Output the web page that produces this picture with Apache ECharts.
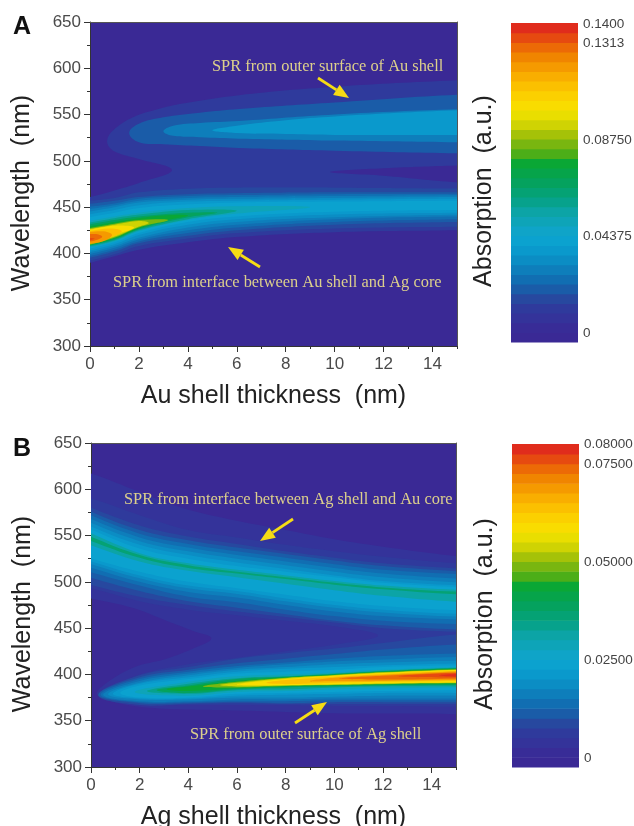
<!DOCTYPE html>
<html><head><meta charset="utf-8">
<style>html,body{margin:0;padding:0;background:#fff}#c{width:634px;height:826px;filter:blur(0.5px)}</style>
<script src="https://cdn.jsdelivr.net/npm/echarts@6/dist/echarts.min.js"></script>
</head><body><div id="c"></div>
<script>
// Colour bands of the scale, bottom to top
const palette=['#3a2995','#382c97','#34339a','#2f3a9c','#27489f','#1a5ca8','#116eb2','#0e7ebb','#0b8dc4','#0a99cc','#0ba2cf','#0fa4c8','#0ea4b8','#0ca4a6','#07a28c','#05a274','#05a25e','#06a44a','#0aa735','#4cae18','#79b610','#a5c208','#cfd303','#e9de00','#f9dc00','#fbd000','#fbc000','#f9ae00','#f59a00','#f08500','#ec6a06','#e64a10','#e02c1c'];
const scaleLabelsA=[0,0.04375,0.0875,0.1313,0.14];
const scaleLabelsB=[0,0.025,0.05,0.075,0.08];
const scaleTextA={0:'0',0.04375:'0.04375',0.0875:'0.08750',0.1313:'0.1313',0.14:'0.1400'};
const scaleTextB={0:'0',0.025:'0.02500',0.05:'0.05000',0.075:'0.07500',0.08:'0.08000'};

// Iso-absorption outlines: thickness (nm), wavelength (nm)
const outlineA=[[0.7,522],[0.95,533],[1.76,547],[2.8,556],[3.8,562],[6.1,571],[10,580],[15,587],[18,590],[18,497],[15,495],[12,492],[9.8,488],[12,484],[15,477],[18,475],[18,426],[15,425],[10,423],[6.1,418],[4,412],[2,404],[1,397],[0,390],[-3,372],[-3,445],[0,461],[1,468],[2,476],[3.35,490],[2,502],[1.2,508],[0.85,513]];
const xA=[-0.5,1,2,4,6,10,15.5];
const contoursA=[
[5,[2,3,4.5,6.1,10,15.5],[540,547,552,556,563,572],[520,518,516,514,511,508],[1.6,530]],
[7,[3.4,4.5,6.1,10,15.5],[538,541,543,550,556],[527,525.5,524,522,520],[3,532]],
[9,[6,8,10,15.5],[538,544,548,555],[530,529,528,528],[5,533]],
[4,xA,[456,460,466,470,471,471,470],[389,399,408,416,422,427,429]],
[5,xA,[452,457,461,464,465,466,466],[392,402,411,419,425,431,434]],
[6,xA,[449,454,459,462,463,464,464],[394,404,413,422,428,434,437]],
[7,xA,[446,452,457,460,461,462,463],[396,406,415,425,431,437,440]],
[8,xA,[443,450,455,458,459,460,461],[398,408,417,428,434,439,442]],
[9,xA,[440,447,452,456,457,458,459],[400,410,420,431,437,442,444]],
[10,xA,[437,444,449,453,455,456,457],[402,412,422,434,440,445,447]],
[12,[-0.5,1,2,4,6],[433,440,444,449,451],[404,413,424,436,443],[9,450]],
[14,[-0.5,1,2,4],[431,438,442,447],[405,414,425,437],[6,446]],
[16,[-0.5,1,2,4],[429,436,440,444],[406,415,426,439],[5.2,444]],
[18,[-0.5,1,2,3],[427,434,438,441],[406,416,427,435],[4,441]],
[20,[-0.5,1,2],[425,432,436],[406,417,428],[3.2,436]],
[22,[-0.5,1,2],[424,431,435],[407,418,429],[2.4,433]],
[24,[-0.5,1],[423,430],[407,420],[1.8,428]],
[26,[-0.5,0.8],[422,427],[408,417],[1.3,424]],
[28,[-0.5,0.5],[421,424],[409,413],[0.9,420]],
[30,[-0.5,0.2],[419,421],[411,414],[0.5,418]],
[31,[-0.5],[417],[412],[0.2,416]]
];
const outlineB2=[[-3,640],[0,617],[2,597],[3.07,586],[4,578],[6,566],[8,556],[10,546],[12,538],[15,528],[18,522],[18,352],[15,357],[10,358],[6,361],[3,363],[1.5,367],[0.7,372],[0.25,378],[0.4,386],[1.7,407],[3.1,417],[4.2,428],[4.95,439],[4.2,447],[3.1,458],[1.7,472],[0,482],[-3,500]];
const outlineB3=[[-3,610],[0,590],[2,572],[4,556],[6,548],[8,540],[10,533],[12,527],[15,520],[18,516],[18,362],[15,365],[10,366],[6,367],[4,367],[2,368],[0.5,377],[1,387],[2,400],[4,411],[6,418],[8,425],[10,432],[11.8,442],[10,452],[8,458],[6,464],[4,470],[2,479],[0,493],[-3,510]];
const xBU=[-0.5,2,4,6,8,10,12,15.5];
const xBL=[2,4,6,8,10,12,15.5];
const contoursB=[
[4,xBU,[585,561,549,541,533,526,520,514],[500,484,475,468,462,456,450,446]],
[5,xBU,[581,556,545,537,530,523,517,511],[508,490,479,472,465,458,453,448]],
[6,xBU,[577,552,541,533,526,519,513,508],[514,496,484,478,470,463,458,454]],
[7,xBU,[573,548,537,529,522,515,509,503],[519,500,489,483,475,468,463,459]],
[8,xBU,[569,544,533,525,518,511,505,499],[523,504,493,487,479,472,467,462]],
[9,xBU,[565,540,529,521,514,507,501,496],[526,507,496,490,482,475,470,465]],
[10,xBU,[562,536,525,517,511,505,499,494],[529,511,500,493,486,479,474,469]],
[13,xBU,[558,531,520,513,507,501,496,491],[544,522,512,505,498,491,485,478]],
[15,xBU,[554,529,518,511,505,499,494,489],[549,526,515,509,503,497,492,486]],
[4,xBL,[399,408,417,423,428,434,444],[367,368,369,368,368,368,368],[0.3,377.5]],
[5,xBL,[397,405,412,417,422,427,433],[369,369,370,369,370,370,370],[0.3,378]],
[6,xBL,[395,403,409,413,417,420,423],[370,370,371,371,372,372,372],[0.4,378]],
[7,xBL,[393,401,407,411,414,416,419],[371,371,373,373,374,374,374],[0.5,378]],
[8,xBL,[391,399,405,408,411,413,415],[373,373,375,375,376,377,377],[0.7,378.5]],
[9,xBL,[390,397,403,406,408,410,412],[374,374,377,378,379,380,380],[0.9,379]],
[10,xBL,[388,395,401,403,405,408,410],[375,375,379,380,381,382,383],[1.2,380]],
[12,xBL.slice(1),[392,398,400,402,405,408],[377,381,382,384,385,386],[1.8,381]],
[14,xBL.slice(1),[390,396,398,401,404,407.5],[379,383,384,386,387,387],[2.3,382]],
[16,xBL.slice(1),[388,395,397.5,400.5,403.5,407],[380,384,386,387,388,388.5],[2.7,383]],
[18,xBL.slice(1),[387,393,397,400,403,406.5],[382,385,387,388,389,390],[3.1,384]],
[20,xBL.slice(2),[392,396.5,399.5,402.5,406],[386,387.5,388.5,389.5,390.5],[4.6,387]],
[22,xBL.slice(2),[391,396,399,402,405.5],[387,388,389,390,391],[5.3,388.5]],
[24,xBL.slice(3),[395,398.5,401.5,405],[388.5,389.5,390.5,391.5],[6,389]],
[26,xBL.slice(3),[394,397.5,400.5,404],[389.5,391,392,393],[7.2,391]],
[28,xBL.slice(4),[396.5,399.5,403.5],[392.5,393,394],[9,393]],
[30,xBL.slice(5),[398.5,402.5],[394.5,395.5],[10.2,395.5]],
[31,xBL.slice(6),[402],[396.5],[12.6,398]],
[32,xBL.slice(6),[401],[397],[14.3,399]]
];
const xTicks=[0,2,4,6,8,10,12,14];

// Off-plot guard points continue each outline past the frame so its closing edge stays hidden
function guard(xs,ys){
  const n=xs.length,out=xs.map((x,i)=>[x,ys[i]]);
  if(n>1&&xs[0]<0) out.unshift([-3,ys[0]+(ys[0]-ys[1])/(xs[1]-xs[0])*2.5]);
  else if(xs[0]<0) out.unshift([-3,ys[0]]);
  if(xs[n-1]>15) out.push([18,ys[n-1]]);
  return out;
}
function toPts(c){
  const [,xs,tops,bots,tip]=c;
  const up=guard(xs,tops), low=guard(xs,bots).reverse();
  if(!tip) return up.concat(low);
  return tip[0]<xs[0] ? [tip].concat(up,low) : up.concat([tip],low);
}
const bandsA=[[3,outlineA]].concat(contoursA.map(c=>[c[0],toPts(c)]));
const bandsB=[[2,outlineB2],[3,outlineB3]].concat(contoursB.map(c=>[c[0],toPts(c)]));

const grids=[
 {left:90,top:22,width:367,height:324,show:true,backgroundColor:palette[0],borderWidth:0,outerBoundsMode:'none'},
 {left:91,top:443,width:365,height:324,show:true,backgroundColor:palette[0],borderWidth:0,outerBoundsMode:'none'},
 {left:511,top:23,width:67,height:319,outerBoundsMode:'none'},
 {left:512,top:444,width:67,height:323,outerBoundsMode:'none'}
];
function xAxes(g,name){return [
 {gridIndex:g,type:'value',position:'bottom',min:0,max:15,interval:1,name:name,nameLocation:'middle',nameGap:38,
  nameTextStyle:{fontFamily:'Liberation Sans',fontSize:25,color:'#222'},
  axisLine:{onZero:false,lineStyle:{color:'#333',width:1}},
  axisTick:{length:6,lineStyle:{color:'#333'},customValues:xTicks},
  axisLabel:{customValues:xTicks,fontFamily:'Liberation Sans',fontSize:17,color:'#4a4a4a',margin:10},splitLine:{show:false}},
 {gridIndex:g,type:'value',position:'bottom',min:0,max:15,interval:1,axisLine:{show:false,onZero:false},axisTick:{length:3,lineStyle:{color:'#333'}},axisLabel:{show:false},splitLine:{show:false}},
 {gridIndex:g,type:'value',position:'top',min:0,max:15,axisLine:{onZero:false,lineStyle:{color:'#555',width:1}},axisTick:{show:false},axisLabel:{show:false},splitLine:{show:false}}
];}
function yAxes(g){return [
 {gridIndex:g,type:'value',min:300,max:650,interval:50,name:'Wavelength  (nm)',nameLocation:'middle',nameGap:55,
  nameTextStyle:{fontFamily:'Liberation Sans',fontSize:25,color:'#222',padding:[0,18,0,0]},
  axisLine:{onZero:false,lineStyle:{color:'#333',width:1}},axisTick:{length:6,lineStyle:{color:'#333'}},
  minorTick:{show:true,splitNumber:2,length:3,lineStyle:{color:'#333'}},
  axisLabel:{fontFamily:'Liberation Sans',fontSize:17,color:'#4a4a4a',margin:9},splitLine:{show:false},minorSplitLine:{show:false}},
 {gridIndex:g,type:'value',min:300,max:650,position:'right',axisLine:{show:true,onZero:false,lineStyle:{color:'#555',width:1}},axisTick:{show:false},axisLabel:{show:false},splitLine:{show:false}}
];}
function barY(g,min,max,vals,txt){return [{gridIndex:g,type:'value',min:min,max:max,position:'right',
  axisLine:{show:false},axisTick:{show:false},splitLine:{show:false},
  axisLabel:{customValues:vals,formatter:v=>txt[v],fontFamily:'Liberation Sans',fontSize:13.5,color:'#444',margin:5},
  },{gridIndex:g,type:'value',min:min,max:max,position:'left',name:'Absorption  (a.u.)',nameLocation:'middle',nameGap:14,
  nameTextStyle:{fontFamily:'Liberation Sans',fontSize:25,color:'#222',padding:[0,17,0,0]},
  axisLine:{show:false},axisTick:{show:false},axisLabel:{show:false},splitLine:{show:false}}];}
const barX=g=>({gridIndex:g,type:'value',min:0,max:1,show:false});

function contourSeries(bands,xi,yi){return {type:'custom',xAxisIndex:xi,yAxisIndex:yi,clip:true,silent:true,z:2,
 data:bands.map(b=>[b[0]]),
 renderItem:(p,api)=>{const b=bands[p.dataIndex];
   return {type:'polygon',shape:{points:b[1].map(q=>api.coord(q)),smooth:0.4},style:{fill:palette[b[0]]}};}};}
function barSeries(min,max,xi,yi){const n=palette.length;return {type:'custom',xAxisIndex:xi,yAxisIndex:yi,silent:true,
 data:palette.map((_,i)=>[i]),
 renderItem:(p,api)=>{const i=p.dataIndex,a=api.coord([0,min+(max-min)*i/n]),b=api.coord([1,min+(max-min)*(i+1)/n]);
   return {type:'rect',shape:{x:a[0],y:b[1],width:b[0]-a[0],height:a[1]-b[1]+0.6},style:{fill:palette[i]}};}};}

const txt=(s,x,y)=>({type:'text',x:x,y:y,z:20,style:{text:s,fill:'#dccf8c',font:'16.4px "Liberation Serif"',textAlign:'left',textVerticalAlign:'middle'}});
function arrow(x0,y0,x1,y1){const a=Math.atan2(y1-y0,x1-x0),L=15,W=6;
 const bx=x1-L*Math.cos(a),by=y1-L*Math.sin(a),nx=-Math.sin(a)*W,ny=Math.cos(a)*W;
 return [{type:'line',z:20,shape:{x1:x0,y1:y0,x2:bx,y2:by},style:{stroke:'#f6dc14',lineWidth:2.8}},
  {type:'polygon',z:20,shape:{points:[[x1,y1],[bx+nx,by+ny],[bx-nx,by-ny]]},style:{fill:'#f6dc14'}}];}

const chart=echarts.init(document.getElementById('c'),null,{renderer:'canvas'});
chart.setOption({animation:false,backgroundColor:'#fff',grid:grids,
 xAxis:[...xAxes(0,'Au shell thickness  (nm)'),...xAxes(1,'Ag shell thickness  (nm)'),barX(2),barX(3)],
 yAxis:[...yAxes(0),...yAxes(1),...barY(2,-0.0041,0.1404,scaleLabelsA,scaleTextA),...barY(3,-0.0022,0.0801,scaleLabelsB,scaleTextB)],
 series:[contourSeries(bandsA,0,0),contourSeries(bandsB,3,2),barSeries(-0.0041,0.1404,6,4),barSeries(-0.0022,0.0801,7,6)],
 graphic:[
  {type:'text',x:13,y:27,z:20,style:{text:'A',fill:'#111',font:'bold 25px "Liberation Sans"',textVerticalAlign:'middle'}},
  {type:'text',x:13,y:449,z:20,style:{text:'B',fill:'#111',font:'bold 25px "Liberation Sans"',textVerticalAlign:'middle'}},
  txt('SPR from outer surface of Au shell',212,67),
  txt('SPR from interface between Au shell and Ag core',113,283),
  txt('SPR from interface between Ag shell and Au core',124,500),
  txt('SPR from outer surface of Ag shell',190,735),
  ...arrow(318,78,349,98),...arrow(260,267,228,247),...arrow(293,519,260,541),...arrow(295,723,327,702)
 ]});
</script></body></html>
